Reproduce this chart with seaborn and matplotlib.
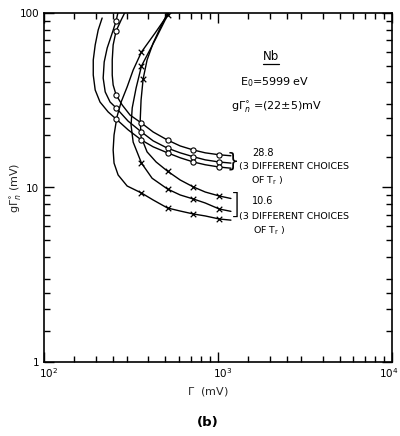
import matplotlib
matplotlib.use("Agg")
import matplotlib.pyplot as plt
import matplotlib.transforms as mtransforms
from matplotlib.ticker import FixedLocator, LogLocator, NullFormatter
import pandas as pd
import seaborn as sns

# Nb resonance at E0 = 5999 eV: loci of total width Gamma (mV) against g*Gamma_n^0 (mV).
# Each curve is listed point by point; *_mark flags the measured points.

# --- 28.8 family (open circles), three choices of T_r ---
o1_gamma = [298, 279, 261, 251, 248, 248, 251, 261, 283, 314, 365, 426, 515, 609, 725, 848, 1020, 1190]
o1_ggn = [104, 91.2, 78.9, 65.6, 53.8, 44.1, 38.7, 33.9, 29.7, 26.0, 23.4, 20.8, 18.7, 17.3, 16.4, 15.8, 15.4, 15.2]
o1_mark = [0, 0, 1, 0, 0, 0, 0, 1, 0, 0, 1, 0, 1, 0, 1, 0, 1, 0]

o2_gamma = [268, 261, 248, 232, 223, 220, 226, 241, 261, 306, 365, 426, 515, 609, 725, 848, 1020, 1190]
o2_ggn = [101.3, 90.0, 76.8, 63.0, 52.4, 42.4, 35.3, 30.9, 28.6, 24.0, 20.8, 18.5, 16.8, 15.8, 15.0, 14.4, 14.0, 13.8]
o2_mark = [0, 1, 0, 0, 0, 0, 0, 0, 1, 0, 1, 0, 1, 0, 1, 0, 1, 0]

o3_gamma = [217, 206, 198, 193, 193, 198, 211, 235, 261, 306, 365, 426, 515, 609, 725, 848, 1020, 1190]
o3_ggn = [93.6, 79.9, 65.6, 53.8, 44.1, 36.2, 30.9, 27.1, 24.7, 21.4, 18.7, 17.1, 15.8, 14.8, 14.0, 13.5, 13.1, 12.9]
o3_mark = [0, 0, 0, 0, 0, 0, 0, 0, 1, 0, 1, 0, 1, 0, 1, 0, 1, 0]

# --- 10.6 family (crosses), three choices of T_r ---
x1_gamma = [533, 515, 437, 365, 327, 302, 279, 264, 254, 251, 254, 268, 302, 365, 426, 515, 609, 725, 848, 1020, 1190]
x1_ggn = [104, 97.4, 76.8, 59.8, 47.1, 37.7, 30.9, 25.4, 20.0, 16.4, 13.8, 11.8, 10.2, 9.30, 8.48, 7.63, 7.33, 7.05, 6.87, 6.60, 6.50]
x1_mark = [0, 1, 0, 1, 0, 0, 0, 0, 0, 0, 0, 0, 0, 1, 0, 1, 0, 1, 0, 1, 0]

x2_gamma = [526, 443, 365, 340, 323, 318, 327, 365, 420, 515, 609, 725, 848, 1020, 1190]
x2_ggn = [101.3, 71.9, 49.7, 37.2, 28.6, 22.8, 18.2, 13.8, 11.3, 9.80, 9.06, 8.59, 8.15, 7.53, 7.30]
x2_mark = [0, 0, 1, 0, 0, 0, 0, 1, 0, 1, 0, 1, 0, 1, 0]

x3_gamma = [519, 467, 426, 393, 373, 363, 359, 363, 393, 443, 515, 609, 725, 848, 1020, 1190]
x3_ggn = [101.3, 82.0, 67.3, 53.8, 41.9, 31.7, 24.4, 19.5, 16.0, 14.0, 12.4, 11.04, 10.07, 9.42, 8.94, 8.65]
x3_mark = [0, 0, 0, 0, 1, 0, 0, 0, 0, 0, 1, 0, 1, 0, 1, 0]

x_ticks = [1e2, 1e3, 1e4]
x_tick_labels = [r"$10^2$", r"$10^3$", r"$10^4$"]
y_ticks = [1, 10, 100]
y_tick_labels = ["1", "10", "100"]

curves = {
    "o1": ("o", o1_gamma, o1_ggn, o1_mark),
    "o2": ("o", o2_gamma, o2_ggn, o2_mark),
    "o3": ("o", o3_gamma, o3_ggn, o3_mark),
    "x1": ("x", x1_gamma, x1_ggn, x1_mark),
    "x2": ("x", x2_gamma, x2_ggn, x2_mark),
    "x3": ("x", x3_gamma, x3_ggn, x3_mark),
}
rows = []
for name, (fam, gam, ggn, mk) in curves.items():
    for i, (a, b, m) in enumerate(zip(gam, ggn, mk)):
        rows.append({"curve": name, "family": fam, "order": i,
                     "gamma": a, "ggn": b, "mark": bool(m)})
df = pd.DataFrame(rows)

sns.set_theme(style="ticks")
plt.rcParams["font.family"] = ["DejaVu Sans"]
plt.rcParams["mathtext.fontset"] = "dejavusans"

fig = plt.figure(figsize=(4.0, 4.36), dpi=100)
ax = fig.add_axes([43.5 / 400, 74 / 436, 348.5 / 400, 349 / 436])

sns.lineplot(data=df, x="gamma", y="ggn", units="curve", estimator=None,
             sort=False, color="black", lw=1.0, ax=ax, legend=False)

pts = df[df["mark"]]
sns.scatterplot(data=pts[pts["family"] == "o"], x="gamma", y="ggn", marker="o",
                s=14, color="white", edgecolor="black", linewidth=0.8,
                zorder=5, ax=ax, legend=False)
sns.scatterplot(data=pts[pts["family"] == "x"], x="gamma", y="ggn", marker="x",
                s=16, color="black", linewidth=0.9, zorder=5, ax=ax, legend=False)

ax.set_xscale("log")
ax.set_yscale("log")
ax.set_xlim(1e2, 1e4)
ax.set_ylim(1, 100)

ax.xaxis.set_major_locator(FixedLocator(x_ticks))
ax.xaxis.set_minor_locator(LogLocator(base=10, subs=[1.5, 2, 2.5, 3, 4, 5, 6, 7, 8, 9]))
ax.yaxis.set_major_locator(FixedLocator(y_ticks))
ax.yaxis.set_minor_locator(LogLocator(base=10, subs=[1.5, 2, 2.5, 3, 4, 5, 6, 7, 8, 9]))
ax.set_xticklabels(x_tick_labels)
ax.set_yticklabels(y_tick_labels)
ax.xaxis.set_minor_formatter(NullFormatter())
ax.yaxis.set_minor_formatter(NullFormatter())

ax.tick_params(which="both", direction="in", top=True, right=True,
               width=1.0, color="black", labelsize=7.5, labelcolor="black")
ax.tick_params(which="major", length=7, pad=3)
ax.tick_params(which="minor", length=4)
# nudge the decade labels, keeping the last one inside the figure
xlabs = ax.get_xticklabels()
for lab, shift in zip(xlabs, [5, 5, -3]):
    lab.set_transform(lab.get_transform() +
                      mtransforms.ScaledTranslation(shift / 100, 0, fig.dpi_scale_trans))
for sp in ax.spines.values():
    sp.set_linewidth(1.2)
    sp.set_color("black")

ax.set_xlabel(r"$\Gamma$  (mV)", fontsize=8)
ax.set_ylabel(r"g$\Gamma_n^{\circ}$ (mV)", fontsize=8)
ax.xaxis.set_label_coords(0.472, -0.066)
ax.yaxis.set_label_coords(-0.055, 0.50)

def axpos(px, py):
    return ((px - 43.5) / 348.5, (362 - py) / 349)

tk = dict(transform=ax.transAxes, color="black")
ax.text(*axpos(271, 57), "Nb", ha="center", va="center", fontsize=8.5, **tk)
ax.plot([axpos(263, 0)[0], axpos(279, 0)[0]], [axpos(0, 64)[1]] * 2,
        transform=ax.transAxes, color="black", lw=0.9)
ax.text(*axpos(275, 82), r"E$_0$=5999 eV", ha="center", va="center", fontsize=8, **tk)
ax.text(*axpos(277, 107), r"g$\Gamma_n^{\circ}$ =(22$\pm$5)mV", ha="center",
        va="center", fontsize=8, **tk)

ax.text(*axpos(233, 161), "}", ha="center", va="center", fontsize=14, **tk)
ax.text(*axpos(252, 153), "28.8", ha="left", va="center", fontsize=7, **tk)
ax.text(*axpos(239, 167), "(3 DIFFERENT CHOICES", ha="left", va="center", fontsize=6.8, **tk)
ax.text(*axpos(251, 181), r"OF T$_\mathregular{r}$ )", ha="left", va="center", fontsize=6.8, **tk)

ax.text(*axpos(235, 206), "]", ha="center", va="center", fontsize=20,
        fontweight="light", **tk)
ax.text(*axpos(252, 201), "10.6", ha="left", va="center", fontsize=7, **tk)
ax.text(*axpos(239, 216), "(3 DIFFERENT CHOICES", ha="left", va="center", fontsize=6.8, **tk)
ax.text(*axpos(253, 231), r"OF T$_\mathregular{r}$ )", ha="left", va="center", fontsize=6.8, **tk)

fig.text(208 / 400, 1 - 422 / 436, "(b)", ha="center", va="center",
         fontsize=9.5, fontweight="bold", color="black")

fig.savefig("out.png", dpi=100, facecolor="white")
